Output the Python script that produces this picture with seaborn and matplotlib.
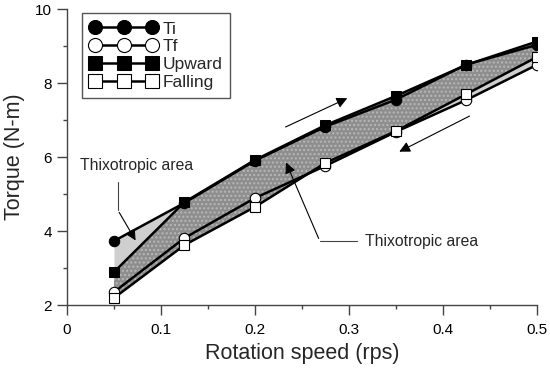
import numpy as np
import matplotlib
matplotlib.use('Agg')
import matplotlib.pyplot as plt
import seaborn as sns
from matplotlib.ticker import MultipleLocator

speed = [0.05, 0.125, 0.2, 0.275, 0.35, 0.425, 0.5]
ti = [3.73, 4.76, 5.9, 6.82, 7.55, 8.5, 9.03]
tf = [2.35, 3.81, 4.89, 5.76, 6.68, 7.54, 8.49]
upward = [2.89, 4.78, 5.92, 6.86, 7.65, 8.49, 9.12]
falling = [2.19, 3.62, 4.65, 5.84, 6.7, 7.7, 8.7]

sns.set_style('ticks')
plt.rcParams['font.family'] = ['Liberation Sans', 'DejaVu Sans']

fig = plt.figure(figsize=(5.5, 3.69), dpi=100)
ax = fig.add_axes([0.1218, 0.1734, 0.976 - 0.1218, 0.9756 - 0.1734])

# shaded areas
ax.fill_between(speed, ti, tf, color='#cfcfcf', linewidth=0, zorder=1)
ax.fill_between(speed, upward, falling, facecolor='#8e8e8e', edgecolor='#b8b8b8',
                hatch='....', linewidth=0, zorder=1.5)

ms = 7.5
sns.lineplot(x=speed, y=ti, ax=ax, color='black', lw=1.8, marker='o', markersize=ms,
             markerfacecolor='black', markeredgecolor='black', label='Ti', zorder=3)
sns.lineplot(x=speed, y=tf, ax=ax, color='black', lw=1.8, marker='o', markersize=ms,
             markerfacecolor='white', markeredgecolor='black', markeredgewidth=0.8,
             label='Tf', zorder=3)
sns.lineplot(x=speed, y=upward, ax=ax, color='black', lw=1.8, marker='s', markersize=ms,
             markerfacecolor='black', markeredgecolor='black', label='Upward', zorder=4)
sns.lineplot(x=speed, y=falling, ax=ax, color='black', lw=1.8, marker='s', markersize=ms,
             markerfacecolor='white', markeredgecolor='black', markeredgewidth=0.8,
             label='Falling', zorder=4)

ax.set_xlim(0, 0.5)
ax.set_ylim(2, 10)
ax.xaxis.set_major_locator(MultipleLocator(0.1))
ax.xaxis.set_minor_locator(MultipleLocator(0.05))
ax.yaxis.set_major_locator(MultipleLocator(2))
ax.yaxis.set_minor_locator(MultipleLocator(1))
ax.set_xticks([0, 0.1, 0.2, 0.3, 0.4, 0.5])
ax.set_xticklabels(['0', '0.1', '0.2', '0.3', '0.4', '0.5'])
ax.tick_params(which='major', direction='out', length=7, width=1, labelsize=11,
               color='#444444', labelcolor='black')
ax.tick_params(axis='x', which='major', pad=6)
ax.tick_params(axis='y', which='major', pad=4)
ax.tick_params(which='minor', direction='out', length=3, width=1, color='#444444')
for s in ['left', 'bottom']:
    ax.spines[s].set_color('#444444')
    ax.spines[s].set_linewidth(1)
sns.despine(ax=ax)

ax.set_xlabel('Rotation speed (rps)', fontsize=15.5, labelpad=4)
ax.set_ylabel('Torque (N-m)', fontsize=15.5, labelpad=7)

leg = ax.legend(loc='upper left', bbox_to_anchor=(0.032, 0.986), borderaxespad=0,
                numpoints=3, handlelength=3.9, handletextpad=0.3, labelspacing=0.12,
                handleheight=0.8, fontsize=12.5, markerscale=1.35, fancybox=False,
                framealpha=1, borderpad=0.45)
leg.get_frame().set_edgecolor('#555555')
leg.get_frame().set_linewidth(1)

arr = dict(arrowstyle='-|>', color='black', lw=0.8, mutation_scale=16)
# left annotation
ax.text(0.014, 5.78, 'Thixotropic area', fontsize=11.3, va='center')
ax.plot([0.054, 0.054], [5.32, 4.57], color='#444444', lw=0.8)
ax.annotate('', xy=(0.0745, 3.68), xytext=(0.054, 4.57), arrowprops=arr)
# right annotation
ax.text(0.317, 3.73, 'Thixotropic area', fontsize=11.3, va='center')
ax.plot([0.269, 0.309], [3.73, 3.73], color='#444444', lw=0.8)
ax.annotate('', xy=(0.232, 5.92), xytext=(0.269, 3.73), arrowprops=arr)
# direction arrows
ax.annotate('', xy=(0.301, 7.62), xytext=(0.23, 6.78), arrowprops=arr)
ax.annotate('', xy=(0.351, 6.11), xytext=(0.431, 7.14), arrowprops=arr)

fig.savefig('out.png', dpi=100)
